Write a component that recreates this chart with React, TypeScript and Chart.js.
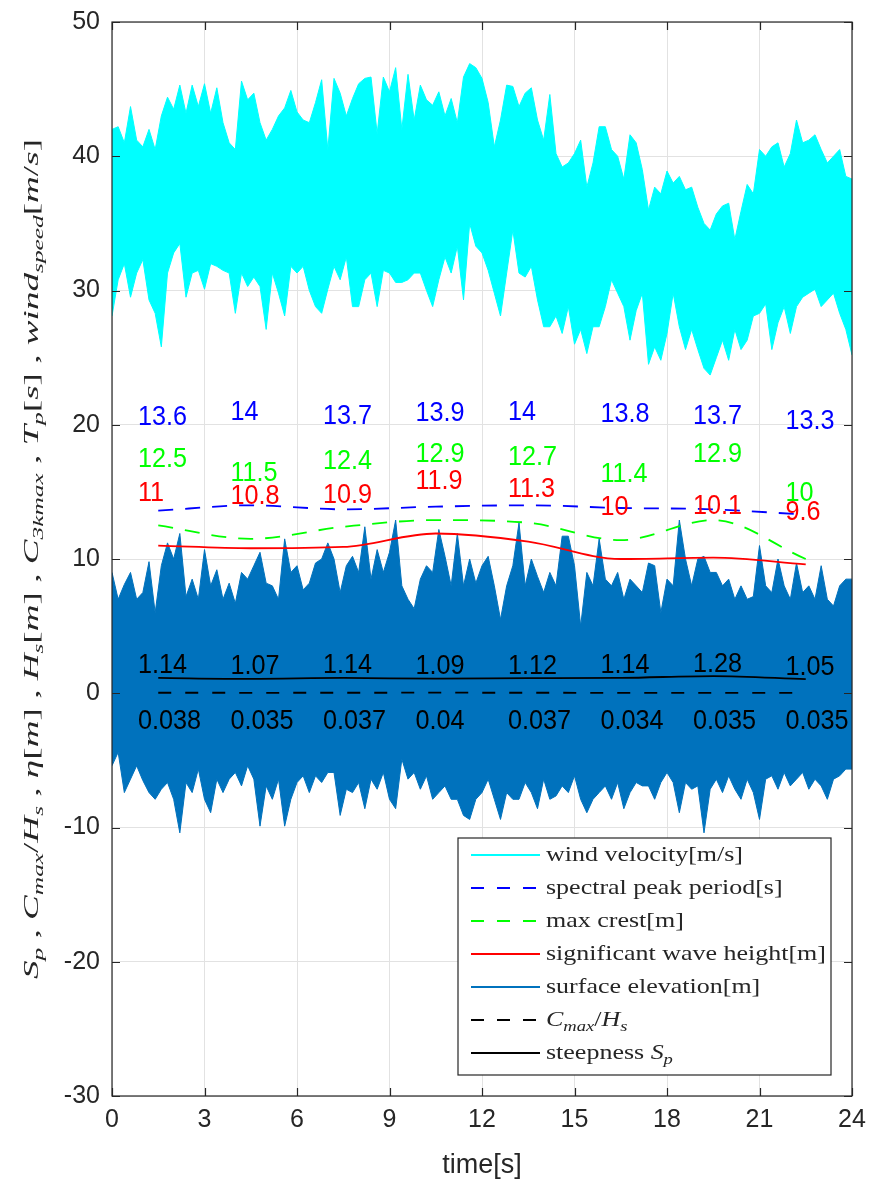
import React, { useEffect, useRef } from "react";
import { Chart, registerables } from "chart.js";

Chart.register(...registerables);

// ---------------- data ----------------
const SAMPLE_STEP = 0.2; // seconds between envelope samples

// wind velocity [m/s]: upper / lower envelope of the dense signal
const windHi = [
  42.0, 42.2, 41.0, 43.7, 41.2, 40.7, 42.0, 40.5, 43.0, 44.4,
  43.5, 45.3, 43.2, 45.3, 43.7, 45.4, 43.2, 45.1, 42.5, 41.0,
  40.5, 45.6, 44.2, 44.7, 42.5, 41.2, 42.0, 43.0, 43.6, 44.9,
  43.3, 42.7, 42.5, 44.0, 45.7, 40.5, 45.8, 44.7, 43.0, 44.3,
  45.4, 45.8, 45.9, 41.7, 45.9, 44.8, 46.6, 42.0, 46.1, 42.7,
  45.3, 44.2, 43.8, 44.8, 43.0, 44.3, 42.5, 45.9, 46.9, 46.6,
  45.8, 44.0, 40.7, 42.7, 45.3, 45.2, 43.7, 44.7, 45.1, 42.7,
  41.2, 44.6, 40.2, 39.2, 39.5, 40.2, 41.2, 37.7, 39.5, 42.2,
  42.2, 40.5, 40.0, 38.3, 41.6, 41.0, 39.0, 36.0, 37.7, 37.2,
  38.9, 38.0, 38.5, 37.5, 37.7, 36.2, 35.0, 34.5, 35.7, 36.3,
  36.5, 33.8, 35.9, 37.9, 37.2, 40.5, 40.0, 40.7, 41.0, 39.2,
  40.2, 42.7, 41.0, 41.2, 41.6, 40.5, 39.5, 40.0, 40.5, 38.5,
  38.3,
];
const windLo = [
  28.1, 30.8, 32.0, 29.5, 31.3, 32.3, 29.3, 28.3, 25.8, 31.3,
  32.8, 33.5, 29.5, 31.3, 31.5, 30.1, 32.0, 31.8, 31.5, 31.3,
  28.3, 31.3, 30.3, 31.0, 30.3, 27.1, 31.3, 29.8, 28.1, 31.8,
  31.3, 31.8, 30.0, 28.8, 28.3, 30.1, 31.8, 30.8, 32.5, 28.8,
  28.8, 30.8, 31.3, 28.8, 31.5, 31.3, 30.6, 30.6, 30.8, 31.3,
  31.3, 30.0, 28.8, 30.8, 32.5, 31.3, 33.3, 29.3, 35.0, 33.3,
  32.8, 31.5, 29.8, 28.1, 31.3, 34.5, 31.3, 31.0, 31.8, 29.3,
  27.3, 27.3, 28.1, 26.8, 28.8, 26.0, 27.1, 25.3, 27.3, 27.3,
  28.8, 30.8, 29.8, 28.8, 26.3, 28.5, 29.8, 24.5, 25.8, 24.8,
  26.8, 29.8, 27.3, 25.6, 27.1, 25.6, 24.2, 23.7, 25.0, 26.3,
  24.8, 27.1, 25.6, 26.3, 28.1, 28.3, 29.0, 25.6, 27.6, 28.8,
  26.8, 28.8, 29.5, 29.8, 30.1, 28.8, 29.3, 29.8, 28.3, 27.1,
  25.2,
];

// surface elevation [m]: upper / lower envelope of the dense signal
const elevHi = [
  9.0, 7.0, 8.1, 9.0, 7.0, 7.5, 9.8, 6.0, 9.5, 11.2,
  10.0, 11.9, 7.2, 8.5, 7.0, 10.7, 8.0, 9.2, 7.0, 8.2,
  6.7, 9.0, 8.5, 9.5, 10.5, 8.2, 8.0, 7.0, 11.5, 9.0,
  9.5, 7.7, 8.2, 9.7, 10.0, 11.2, 10.0, 7.5, 9.5, 10.2,
  9.0, 12.4, 8.5, 10.7, 9.0, 10.5, 12.9, 8.0, 7.0, 6.3,
  8.5, 9.5, 9.0, 12.2, 10.2, 8.0, 11.9, 8.0, 10.0, 8.2,
  9.5, 10.2, 8.0, 5.5, 8.0, 9.5, 12.7, 8.0, 10.0, 8.7,
  7.5, 9.0, 8.0, 11.7, 11.7, 9.5, 5.0, 9.0, 8.0, 11.5,
  8.5, 8.0, 9.0, 7.0, 8.5, 8.0, 7.5, 9.7, 9.5, 6.0,
  8.5, 8.0, 12.9, 10.0, 8.0, 10.0, 10.2, 9.0, 9.0, 8.0,
  8.5, 7.0, 8.0, 7.0, 7.2, 11.0, 8.0, 7.5, 10.0, 8.0,
  7.0, 9.7, 7.5, 8.0, 7.0, 9.5, 7.0, 6.5, 8.0, 8.5,
  8.5,
];
const elevLo = [
  -5.4, -4.4, -7.4, -6.4, -5.4, -6.5, -7.4, -7.9, -7.15, -6.65,
  -7.9, -10.4, -6.65, -7.4, -5.65, -7.9, -8.9, -6.4, -7.4, -6.4,
  -5.9, -6.9, -5.4, -6.4, -9.9, -6.9, -7.9, -6.4, -9.9, -7.9,
  -6.65, -6.15, -7.4, -6.15, -6.65, -5.9, -5.9, -9.1, -7.15, -7.4,
  -6.65, -8.6, -6.4, -7.15, -5.9, -7.9, -8.6, -4.9, -6.4, -5.9,
  -7.15, -6.15, -7.9, -7.4, -6.9, -7.9, -7.9, -9.1, -9.4, -7.9,
  -7.4, -6.4, -7.9, -9.4, -7.4, -7.9, -7.9, -6.65, -7.4, -8.6,
  -6.4, -7.9, -7.65, -6.9, -7.4, -6.15, -7.9, -8.9, -7.9, -7.4,
  -6.9, -7.9, -6.65, -8.6, -7.4, -6.65, -6.9, -6.9, -7.9, -6.65,
  -5.9, -6.65, -8.9, -6.65, -7.15, -6.9, -10.4, -7.15, -6.4, -7.4,
  -6.15, -7.15, -7.9, -6.4, -7.4, -9.4, -6.4, -6.15, -7.15, -5.9,
  -6.9, -6.4, -5.9, -7.15, -6.4, -6.9, -7.9, -6.4, -6.15, -5.65,
  -5.65,
];

// per-window statistics (3 s windows)
const windowCenters = [1.5, 4.5, 7.5, 10.5, 13.5, 16.5, 19.5, 22.5];
const peakPeriod = [13.6, 14, 13.7, 13.9, 14, 13.8, 13.7, 13.3];
const maxCrest = [12.5, 11.5, 12.4, 12.9, 12.7, 11.4, 12.9, 10];
const sigWaveHeight = [11, 10.8, 10.9, 11.9, 11.3, 10, 10.1, 9.6];
const crestRatio = [1.14, 1.07, 1.14, 1.09, 1.12, 1.14, 1.28, 1.05];
const steepness = [0.038, 0.035, 0.037, 0.04, 0.037, 0.034, 0.035, 0.035];

const xTicks = [0, 3, 6, 9, 12, 15, 18, 21, 24];
const yTicks = [-30, -20, -10, 0, 10, 20, 30, 40, 50];

const legendLabels = [
  "wind velocity[m/s]",
  "spectral peak period[s]",
  "max crest[m]",
  "significant wave height[m]",
  "surface elevation[m]",
];

// ---------------- styling ----------------
const TEXT = "#262626";
const CYAN = "#00FFFF";
const ELEV = "#0072BD";
const BLUE = "#0000FF";
const GREEN = "#00FF00";
const RED = "#FF0000";
const BLACK = "#000000";
const SANS = '"Liberation Sans", Arial, Helvetica, sans-serif';
const SERIF = '"Liberation Serif", "DejaVu Serif", serif';

type Part = [string, "r" | "i" | "s"];

const yTitleParts: Part[] = [
  ["S", "i"], ["p", "s"], [" , ", "r"],
  ["C", "i"], ["max", "s"], ["/", "r"], ["H", "i"], ["s", "s"], [" , ", "r"],
  ["η", "i"], ["[", "r"], ["m", "i"], ["]", "r"], [" , ", "r"],
  ["H", "i"], ["s", "s"], ["[", "r"], ["m", "i"], ["]", "r"], [" , ", "r"],
  ["C", "i"], ["3kmax", "s"], [" , ", "r"],
  ["T", "i"], ["p", "s"], ["[", "r"], ["s", "i"], ["]", "r"], [" , ", "r"],
  ["wind", "i"], ["speed", "s"], ["[", "r"], ["m", "i"], ["/", "r"], ["s", "i"], ["]", "r"],
];

const sampleTimes = (n: number) => Array.from({ length: n }, (_, i) => +(i * SAMPLE_STEP).toFixed(2));
const toXY = (vals: number[]) => {
  const t = sampleTimes(vals.length);
  return vals.map((v, i) => ({ x: t[i], y: v }));
};
const toWin = (vals: number[]) => vals.map((v, i) => ({ x: windowCenters[i], y: v }));

function partFont(k: "r" | "i" | "s", main: number, sub: number) {
  if (k === "r") return `${main}px ${SERIF}`;
  if (k === "i") return `italic ${main}px ${SERIF}`;
  return `italic ${sub}px ${SERIF}`;
}

function drawParts(ctx: CanvasRenderingContext2D, parts: Part[], x: number, y: number, main: number, sub: number, subDy: number) {
  let cx = x;
  for (const [t, k] of parts) {
    ctx.font = partFont(k, main, sub);
    ctx.fillText(t, cx, k === "s" ? y + subDy : y);
    cx += ctx.measureText(t).width;
  }
  return cx - x;
}
function measureParts(ctx: CanvasRenderingContext2D, parts: Part[], main: number, sub: number) {
  let w = 0;
  for (const [t, k] of parts) {
    ctx.font = partFont(k, main, sub);
    w += ctx.measureText(t).width;
  }
  return w;
}

// axes box + inward ticks
const boxPlugin = {
  id: "boxPlugin",
  afterDatasetsDraw(chart: any) {
    const { ctx, chartArea: a, scales } = chart;
    ctx.save();
    ctx.strokeStyle = TEXT;
    ctx.lineWidth = 1.2;
    ctx.strokeRect(a.left, a.top, a.right - a.left, a.bottom - a.top);
    const L = 8;
    ctx.beginPath();
    for (const v of yTicks) {
      const py = Math.round(scales.y.getPixelForValue(v)) + 0.5;
      ctx.moveTo(a.left, py); ctx.lineTo(a.left + L, py);
      ctx.moveTo(a.right, py); ctx.lineTo(a.right - L, py);
    }
    for (const v of xTicks) {
      const px = Math.round(scales.x.getPixelForValue(v)) + 0.5;
      ctx.moveTo(px, a.bottom); ctx.lineTo(px, a.bottom - L);
      ctx.moveTo(px, a.top); ctx.lineTo(px, a.top + L);
    }
    ctx.stroke();
    ctx.restore();
  },
};

// numeric annotations of each window
const LABEL_DX = -0.66;
const labelSets = [
  { values: peakPeriod, dy: 6.95, color: BLUE },
  { values: maxCrest, dy: 4.9, color: GREEN },
  { values: sigWaveHeight, dy: 3.85, color: RED },
  { values: crestRatio, dy: 0.9, color: BLACK },
  { values: steepness, dy: -2.1, color: BLACK },
];
const labelPlugin = {
  id: "labelPlugin",
  afterDatasetsDraw(chart: any) {
    const { ctx, scales } = chart;
    ctx.save();
    ctx.font = `26px ${SANS}`;
    ctx.textAlign = "left";
    ctx.textBaseline = "middle";
    for (const set of labelSets) {
      ctx.fillStyle = set.color;
      set.values.forEach((v, i) => {
        const px = scales.x.getPixelForValue(windowCenters[i] + LABEL_DX);
        const py = scales.y.getPixelForValue(v + set.dy);
        ctx.save();
        ctx.translate(px, py);
        ctx.scale(0.97, 1.06);
        ctx.fillText(String(v), 0, 0);
        ctx.restore();
      });
    }
    ctx.restore();
  },
};

// legend
const legendPlugin = {
  id: "legendPlugin",
  afterDraw(chart: any) {
    const { ctx, chartArea: a } = chart;
    const W = 373, H = 237;
    const left = a.right - 21 - W;
    const top = a.bottom - 21 - H;
    ctx.save();
    ctx.fillStyle = "#FFFFFF";
    ctx.fillRect(left, top, W, H);
    ctx.strokeStyle = TEXT;
    ctx.lineWidth = 1.2;
    ctx.strokeRect(left, top, W, H);

    const rows: { parts: Part[]; color: string; dash: number[] }[] = [
      { parts: [[legendLabels[0], "r"]], color: CYAN, dash: [] },
      { parts: [[legendLabels[1], "r"]], color: BLUE, dash: [13, 13] },
      { parts: [[legendLabels[2], "r"]], color: GREEN, dash: [13, 13] },
      { parts: [[legendLabels[3], "r"]], color: RED, dash: [] },
      { parts: [[legendLabels[4], "r"]], color: ELEV, dash: [] },
      { parts: [["C", "i"], ["max", "s"], ["/", "r"], ["H", "i"], ["s", "s"]], color: BLACK, dash: [13, 13] },
      { parts: [["steepness ", "r"], ["S", "i"], ["p", "s"]], color: BLACK, dash: [] },
    ];
    const main = 21, sub = 15;
    ctx.font = `${main}px ${SERIF}`;
    const sx = 197 / ctx.measureText(legendLabels[0]).width;
    rows.forEach((r, i) => {
      const cy = top + 17 + i * 33;
      ctx.strokeStyle = r.color;
      ctx.lineWidth = 2;
      ctx.setLineDash(r.dash);
      ctx.beginPath();
      ctx.moveTo(left + 13, cy);
      ctx.lineTo(left + 82, cy);
      ctx.stroke();
      ctx.setLineDash([]);
      ctx.save();
      ctx.translate(left + 88, cy + 6);
      ctx.scale(sx, 1);
      ctx.fillStyle = TEXT;
      ctx.textBaseline = "alphabetic";
      drawParts(ctx, r.parts, 0, 0, main, sub, 5);
      ctx.restore();
    });
    ctx.restore();
  },
};

// rotated y-axis title with sub-scripts
const yTitlePlugin = {
  id: "yTitlePlugin",
  afterDraw(chart: any) {
    const { ctx, chartArea: a } = chart;
    const main = 22, sub = 15;
    ctx.save();
    const natural = measureParts(ctx, yTitleParts, main, sub);
    const targetLen = 840;
    const stretch = targetLen / natural;
    ctx.translate(38, (a.top + a.bottom) / 2);
    ctx.rotate(-Math.PI / 2);
    ctx.scale(stretch, 1);
    ctx.fillStyle = TEXT;
    ctx.textBaseline = "alphabetic";
    drawParts(ctx, yTitleParts, -natural / 2, 0, main, sub, 5);
    ctx.restore();
  },
};

export default function App() {
  const ref = useRef<HTMLCanvasElement | null>(null);

  useEffect(() => {
    if (!ref.current) return;
    const band = (data: number[], color: string, fill: any, order: number) => ({
      data: toXY(data),
      borderColor: color,
      backgroundColor: color,
      borderWidth: 1,
      pointRadius: 0,
      fill,
      order,
      tension: 0,
    });
    const stat = (data: number[], color: string, dash: number[], order: number) => ({
      data: toWin(data),
      borderColor: color,
      backgroundColor: color,
      borderWidth: 1.8,
      borderDash: dash,
      pointRadius: 0,
      fill: false,
      order,
      cubicInterpolationMode: "monotone" as const,
    });

    const chart = new Chart(ref.current, {
      type: "line",
      data: {
        datasets: [
          band(windHi, CYAN, "+1", 20),
          band(windLo, CYAN, false, 20),
          band(elevHi, ELEV, "+1", 10),
          band(elevLo, ELEV, false, 10),
          stat(peakPeriod, BLUE, [15, 12], 1),
          stat(maxCrest, GREEN, [15, 12], 1),
          stat(sigWaveHeight, RED, [], 1),
          stat(crestRatio, BLACK, [], 1),
          stat(steepness, BLACK, [13, 14], 1),
        ] as any,
      },
      options: {
        animation: false,
        responsive: true,
        maintainAspectRatio: false,
        devicePixelRatio: 1,
        layout: { padding: { top: 22, right: 19, left: 0, bottom: 0 } },
        plugins: {
          legend: { display: false },
          tooltip: { enabled: false },
        },
        scales: {
          x: {
            type: "linear",
            min: 0,
            max: 24,
            afterBuildTicks: (s: any) => {
              s.ticks = xTicks.map((v) => ({ value: v }));
            },
            afterFit: (s: any) => {
              s.height = 89;
              s.paddingLeft = 0;
              s.paddingRight = 0;
            },
            ticks: {
              autoSkip: false,
              maxRotation: 0,
              padding: 9,
              color: TEXT,
              font: { family: SANS, size: 25 },
            },
            grid: { color: "#e2e2e2", drawTicks: false, lineWidth: 1 },
            border: { display: false },
            title: {
              display: true,
              text: "time[s]",
              color: TEXT,
              font: { family: SANS, size: 27 },
              padding: { top: 0, bottom: 3 },
            },
          },
          y: {
            type: "linear",
            min: -30,
            max: 50,
            afterBuildTicks: (s: any) => {
              s.ticks = yTicks.map((v) => ({ value: v }));
            },
            afterFit: (s: any) => {
              s.width = 112;
              s.paddingTop = 0;
              s.paddingBottom = 0;
            },
            ticks: {
              padding: 12,
              color: TEXT,
              font: { family: SANS, size: 25 },
            },
            grid: { color: "#e2e2e2", drawTicks: false, lineWidth: 1 },
            border: { display: false },
          },
        },
      },
      plugins: [boxPlugin, labelPlugin, legendPlugin, yTitlePlugin],
    });
    return () => chart.destroy();
  }, []);

  return (
    <div style={{ position: "absolute", left: 0, top: 0, width: 871, height: 1185, background: "#fff" }}>
      <canvas ref={ref} />
    </div>
  );
}
